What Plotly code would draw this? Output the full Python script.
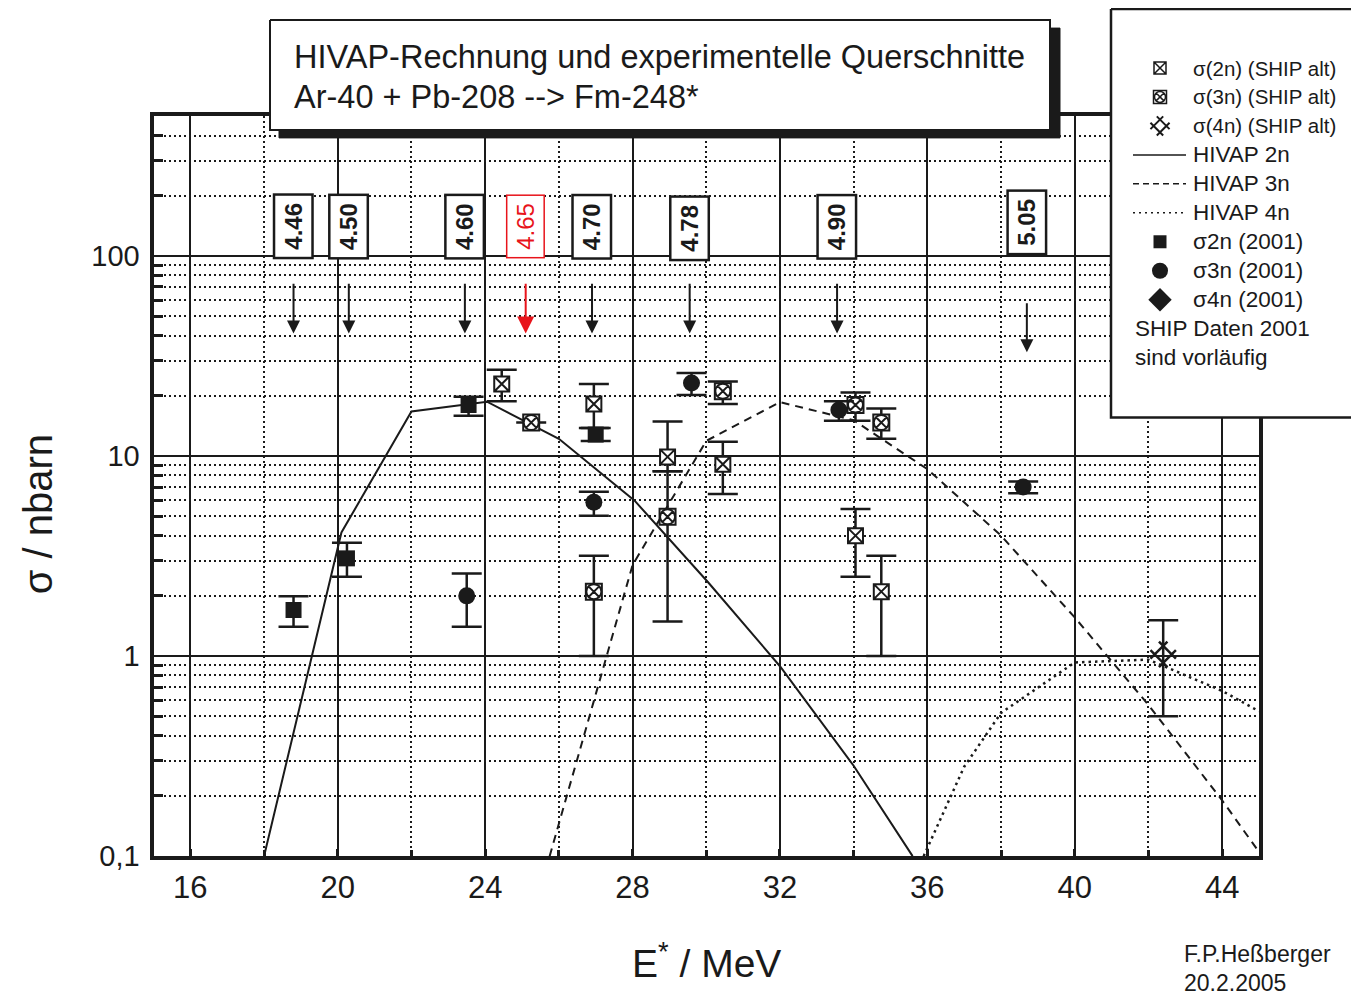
import math
import plotly.graph_objects as go

# ---------------- data ----------------
# HIVAP calculations (E* in MeV, sigma in nb)
E_hivap2n = [18.0, 20.1, 22.0, 24.05, 26.0, 28.05, 30.05, 32.0, 34.0, 35.6]
s_hivap2n = [0.1, 4.15, 16.7, 18.7, 12.2, 6.0, 2.34, 0.89, 0.283, 0.1]
E_hivap3n = [25.75, 28.0, 30.0, 32.0, 34.0, 36.0, 38.0, 40.0, 42.0, 44.0, 45.0]
s_hivap3n = [0.1, 2.85, 11.9, 18.6, 15.1, 8.6, 4.0, 1.56, 0.57, 0.19, 0.105]
E_hivap4n = [35.9, 37.0, 38.0, 40.0, 42.0, 44.0, 45.0]
s_hivap4n = [0.1, 0.28, 0.52, 0.93, 0.96, 0.67, 0.53]

# SHIP 2001
E_2n_2001 = [18.8, 20.25, 23.55, 27.0]
s_2n_2001 = [1.70, 3.08, 18.0, 12.8]
s_2n_2001_hi = [1.99, 3.69, 19.8, 13.8]
s_2n_2001_lo = [1.40, 2.49, 15.9, 11.9]

E_3n_2001 = [23.5, 26.95, 29.6, 33.6, 38.6]
s_3n_2001 = [2.0, 5.87, 23.2, 17.0, 7.0]
s_3n_2001_hi = [2.59, 6.63, 26.0, 18.8, 7.47]
s_3n_2001_lo = [1.40, 5.03, 20.2, 15.0, 6.51]

# SHIP old data
E_2n_alt = [24.45, 26.95, 28.95, 30.45, 34.05, 34.75]
s_2n_alt = [22.9, 18.2, 9.9, 9.1, 4.0, 2.1]
s_2n_alt_hi = [27.0, 22.9, 14.9, 11.8, 5.43, 3.17]
s_2n_alt_lo = [18.8, 13.8, 8.4, 6.46, 2.49, 1.0]

E_3n_alt = [25.25, 26.95, 28.95, 30.45, 34.05, 34.75]
s_3n_alt = [14.7, 2.1, 4.97, 21.1, 18.0, 14.7]
s_3n_alt_hi = [14.7, 3.17, 8.4, 23.6, 20.8, 17.3]
s_3n_alt_lo = [14.7, 1.0, 1.49, 18.2, 15.0, 12.2]

E_4n_alt = [42.4]
s_4n_alt = [1.02]
s_4n_alt_hi = [1.51]
s_4n_alt_lo = [0.50]

# alpha-energy labels (MeV) and their E* positions
alpha_labels = ["4.46", "4.50", "4.60", "4.65", "4.70", "4.78", "4.90", "5.05"]
alpha_E = [18.8, 20.3, 23.45, 25.1, 26.9, 29.55, 33.55, 38.7]
alpha_box_y = [140, 140, 140, 140, 140, 137, 140, 147]   # sigma (nb) of box centre
alpha_arrow_top = [74, 74, 74, 74, 74, 74, 74, 59]
alpha_arrow_tip = [41, 41, 41, 41, 41, 41, 41, 33]
alpha_color = ["#1a1a1a", "#1a1a1a", "#1a1a1a", "#e8141b", "#1a1a1a", "#1a1a1a", "#1a1a1a", "#1a1a1a"]

x_ticks = [16, 20, 24, 28, 32, 36, 40, 44]
x_minor = [18, 22, 26, 30, 34, 38, 42]
y_ticks = [0.1, 1, 10, 100]
y_ticktext = ["0,1", "1", "10", "100"]
y_minor = [m * 10 ** d for d in (-1, 0, 1, 2) for m in range(2, 10) if m * 10 ** d < 500]

legend_labels = ["σ(2n) (SHIP alt)", "σ(3n) (SHIP alt)", "σ(4n) (SHIP alt)",
                 "HIVAP 2n", "HIVAP 3n", "HIVAP 4n",
                 "σ2n (2001)", "σ3n (2001)", "σ4n (2001)"]

# ---------------- layout constants ----------------
# page body has an 8px margin; the photo compresses the page vertically by SV
OFF = 8
SV = 0.9855
W, H = 1359 - 2 * OFF, 1002
INK = "#1a1a1a"
FONT = "Liberation Sans, Arial, Helvetica, sans-serif"
X0, X1 = 153.5, 1259.0     # plot area in reference pixels
Y0, Y1 = 116.0, 857.3


def Y(y):
    """reference-pixel y -> page-pixel y"""
    return y / SV


def px(x):
    return (x - OFF) / W


def py(y):
    return 1 - (Y(y) - OFF) / H


def errs(v, hi, lo):
    return dict(type="data", symmetric=False,
                array=[h - s for h, s in zip(hi, v)],
                arrayminus=[s - l for s, l in zip(v, lo)],
                width=15, thickness=2.5, color=INK)


fig = go.Figure()

# HIVAP lines
fig.add_trace(go.Scatter(x=E_hivap2n, y=s_hivap2n, mode="lines",
                         line=dict(color=INK, width=2)))
fig.add_trace(go.Scatter(x=E_hivap3n, y=s_hivap3n, mode="lines",
                         line=dict(color=INK, width=2, dash="8px,6px")))
fig.add_trace(go.Scatter(x=E_hivap4n, y=s_hivap4n, mode="lines",
                         line=dict(color=INK, width=2.5, dash="2.5px,4px")))

# SHIP old data
fig.add_trace(go.Scatter(x=E_2n_alt, y=s_2n_alt, mode="markers",
                         error_y=errs(s_2n_alt, s_2n_alt_hi, s_2n_alt_lo),
                         marker=dict(symbol="square-x", size=15, color="white",
                                     line=dict(color=INK, width=2))))
fig.add_trace(go.Scatter(x=E_3n_alt, y=s_3n_alt, mode="markers",
                         error_y=errs(s_3n_alt, s_3n_alt_hi, s_3n_alt_lo),
                         marker=dict(symbol="square", size=16, color="white",
                                     line=dict(color=INK, width=2))))
fig.add_trace(go.Scatter(x=E_3n_alt, y=s_3n_alt, mode="markers",
                         marker=dict(symbol="circle-x", size=15, color="white",
                                     line=dict(color=INK, width=2))))
fig.add_trace(go.Scatter(x=E_4n_alt, y=s_4n_alt, mode="markers",
                         error_y=errs(s_4n_alt, s_4n_alt_hi, s_4n_alt_lo),
                         marker=dict(symbol="hash-open", angle=45, size=24, color=INK,
                                     line=dict(color=INK, width=2.5))))

# SHIP 2001
fig.add_trace(go.Scatter(x=E_2n_2001, y=s_2n_2001, mode="markers",
                         error_y=errs(s_2n_2001, s_2n_2001_hi, s_2n_2001_lo),
                         marker=dict(symbol="square", size=16, color=INK)))
fig.add_trace(go.Scatter(x=E_3n_2001, y=s_3n_2001, mode="markers",
                         error_y=errs(s_3n_2001, s_3n_2001_hi, s_3n_2001_lo),
                         marker=dict(symbol="circle", size=17, color=INK)))

# ---------------- overlay (title box + legend box), page-pixel coords ----------------
ov = dict(xaxis="x2", yaxis="y2", hoverinfo="skip", showlegend=False)


def box(x0, y0, x1, y1):
    return [x0, x1, x1, x0, x0], [Y(y0), Y(y0), Y(y1), Y(y1), Y(y0)]


bx, by = box(279, 28, 1060, 138)
fig.add_trace(go.Scatter(x=bx, y=by, mode="lines", fill="toself", fillcolor=INK,
                         line=dict(color=INK, width=1), **ov))
bx, by = box(270, 20, 1050, 130)
fig.add_trace(go.Scatter(x=bx, y=by, mode="lines", fill="toself", fillcolor="white",
                         line=dict(color=INK, width=2), **ov))
bx, by = box(1111, 9, 1380, 418)
fig.add_trace(go.Scatter(x=bx, y=by, mode="lines", fill="toself", fillcolor="white",
                         line=dict(color=INK, width=2.5), **ov))
LX, LY = 1160, [68, 97, 126, 155, 184, 213, 242, 271, 300]
fig.add_trace(go.Scatter(x=[LX], y=[Y(LY[0])], mode="markers",
                         marker=dict(symbol="square-x", size=12, color="white",
                                     line=dict(color=INK, width=1.5)), **ov))
fig.add_trace(go.Scatter(x=[LX], y=[Y(LY[1])], mode="markers",
                         marker=dict(symbol="square", size=13, color="white",
                                     line=dict(color=INK, width=1.5)), **ov))
fig.add_trace(go.Scatter(x=[LX], y=[Y(LY[1])], mode="markers",
                         marker=dict(symbol="circle-x", size=11, color="white",
                                     line=dict(color=INK, width=1.5)), **ov))
fig.add_trace(go.Scatter(x=[LX], y=[Y(LY[2])], mode="markers",
                         marker=dict(symbol="hash-open", angle=45, size=18, color=INK,
                                     line=dict(color=INK, width=2)), **ov))
for yy, dash in zip(LY[3:6], ["solid", "6px,4px", "2px,4px"]):
    fig.add_trace(go.Scatter(x=[1133, 1186], y=[Y(yy), Y(yy)], mode="lines",
                             line=dict(color=INK, width=1.5, dash=dash), **ov))
for yy, sym, sz in zip(LY[6:9], ["square", "circle", "diamond"], [13, 16, 18]):
    fig.add_trace(go.Scatter(x=[LX], y=[Y(yy)], mode="markers",
                             marker=dict(symbol=sym, size=sz, color=INK), **ov))

# ---------------- annotations ----------------
ann = []
for txt, yy in zip(["HIVAP-Rechnung und experimentelle Querschnitte",
                    "Ar-40 + Pb-208 --> Fm-248*"], [57, 97]):
    ann.append(dict(text=txt, x=px(292), y=py(yy),
                    xref="paper", yref="paper", xanchor="left", yanchor="middle", showarrow=False,
                    font=dict(family=FONT, size=32.5, color=INK)))
for i, (lab, yy) in enumerate(zip(legend_labels, LY)):
    ann.append(dict(text=lab, x=px(1191), y=py(yy), xref="paper", yref="paper",
                    xanchor="left", yanchor="middle", showarrow=False,
                    font=dict(family=FONT, size=20.5 if i < 3 else 22.5, color=INK)))
for lab, yy in zip(["SHIP Daten 2001", "sind vorläufig"], [329, 358]):
    ann.append(dict(text=lab, x=px(1133), y=py(yy), xref="paper", yref="paper",
                    xanchor="left", yanchor="middle", showarrow=False,
                    font=dict(family=FONT, size=22.5, color=INK)))

for lab, e, yb, yt, ytip, col in zip(alpha_labels, alpha_E, alpha_box_y,
                                     alpha_arrow_top, alpha_arrow_tip, alpha_color):
    red = col != INK
    ann.append(dict(text=lab if red else "<b>%s</b>" % lab, x=e, y=math.log10(yb),
                    xref="x", yref="y", showarrow=False, textangle=-90,
                    font=dict(family=FONT, size=24, color=col),
                    bgcolor="white", bordercolor=col, borderwidth=1.5 if red else 2.5,
                    borderpad=2, width=57, height=32))
    ann.append(dict(text="", x=e, y=math.log10(ytip), ax=e, ay=math.log10(yt),
                    xref="x", yref="y", axref="x", ayref="y", showarrow=True,
                    arrowhead=2, arrowsize=1.7 if red else 1.3,
                    arrowwidth=2, arrowcolor=col))

ann.append(dict(text="E<sup>*</sup> / MeV", x=px((X0 + X1) / 2), y=py(962),
                xref="paper", yref="paper", showarrow=False, xanchor="center", yanchor="middle",
                font=dict(family=FONT, size=39, color=INK)))
ann.append(dict(text="σ / nbarn", x=px(38), y=py(515), textangle=-90,
                xref="paper", yref="paper", showarrow=False, xanchor="center", yanchor="middle",
                font=dict(family=FONT, size=40, color=INK)))
for lab, yy in zip(["F.P.Heßberger", "20.2.2005"], [955, 984]):
    ann.append(dict(text=lab, x=px(1182), y=py(yy), xref="paper", yref="paper",
                    xanchor="left", yanchor="middle", showarrow=False,
                    font=dict(family=FONT, size=23, color=INK)))

fig.update_layout(
    width=W, height=H,
    margin=dict(l=0, r=0, t=0, b=0),
    paper_bgcolor="white", plot_bgcolor="rgba(0,0,0,0)",
    showlegend=False,
    annotations=ann,
    xaxis=dict(domain=[px(X0), px(X1)], range=[15, 45], anchor="y",
               tickvals=x_ticks, ticktext=[str(v) for v in x_ticks],
               tickfont=dict(family=FONT, size=31, color=INK),
               ticks="inside", ticklen=7, tickwidth=3, tickcolor=INK,
               ticklabelstandoff=1,
               showgrid=True, gridcolor=INK, gridwidth=2,
               minor=dict(tickvals=x_minor, showgrid=True, gridcolor=INK,
                          griddash="2px,3px", gridwidth=1.5,
                          ticks="inside", ticklen=6, tickwidth=3, tickcolor=INK),
               showline=True, linecolor=INK, linewidth=4, mirror=True,
               zeroline=False, fixedrange=True),
    yaxis=dict(domain=[py(Y1), py(Y0)], type="log", range=[-1, 2.7], anchor="x",
               tickvals=y_ticks, ticktext=y_ticktext,
               tickfont=dict(family=FONT, size=29, color=INK),
               ticks="", ticklabelstandoff=4,
               showgrid=True, gridcolor=INK, gridwidth=2,
               minor=dict(tickvals=y_minor, showgrid=True, gridcolor=INK,
                          griddash="2px,3px", gridwidth=1.5,
                          ticks="inside", ticklen=9, tickwidth=3, tickcolor=INK),
               showline=True, linecolor=INK, linewidth=4, mirror=True,
               zeroline=False, fixedrange=True),
    xaxis2=dict(domain=[0, 1], range=[OFF, OFF + W], anchor="y2", visible=False, fixedrange=True),
    yaxis2=dict(domain=[0, 1], range=[OFF + H, OFF], anchor="x2", visible=False, fixedrange=True),
)

fig.write_html("out.html")
